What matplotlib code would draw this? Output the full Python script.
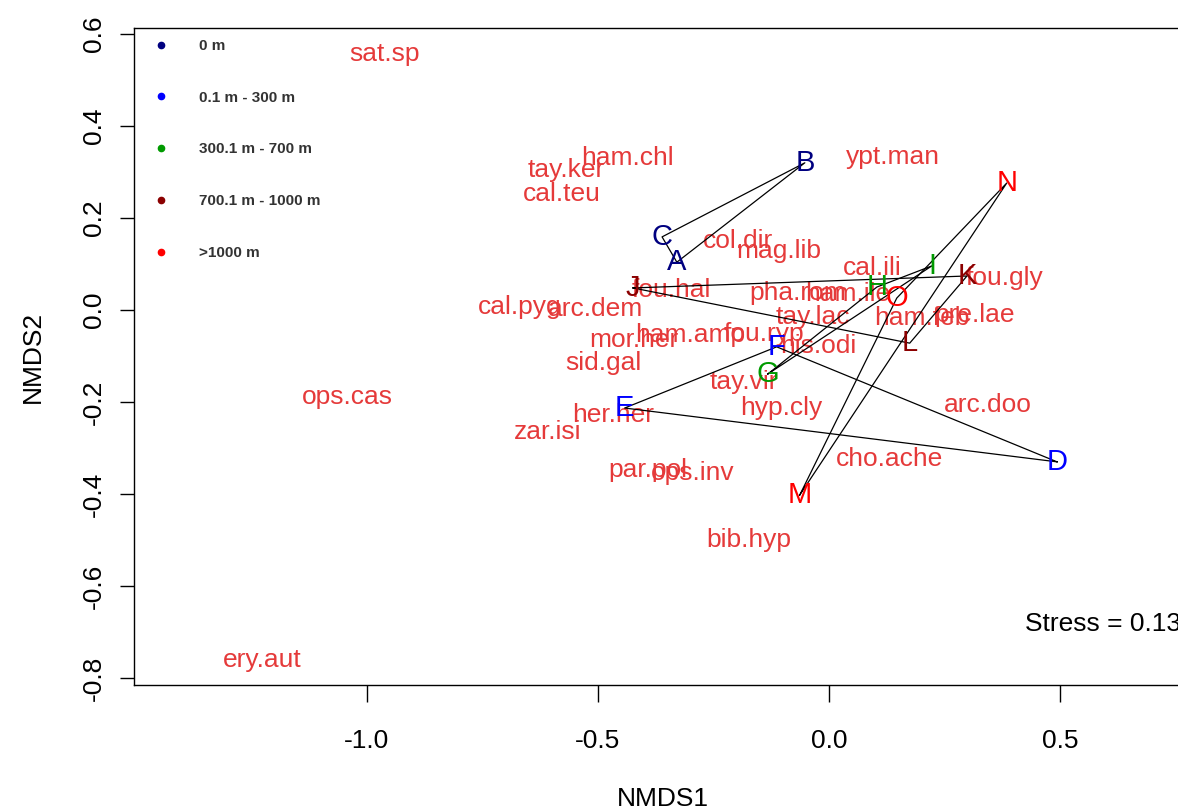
import matplotlib
matplotlib.use("Agg")
import matplotlib.pyplot as plt
from matplotlib.lines import Line2D

plt.rcParams['font.family'] = ['Liberation Sans', 'DejaVu Sans']

# Site scores (NMDS1, NMDS2)
site_labels = list("ABCDEFGHIJKLMNO")
site_x = [-0.329, -0.052, -0.361, 0.494, -0.442, -0.113, -0.132, 0.104, 0.223,
          -0.424, 0.299, 0.175, -0.063, 0.385, 0.147]
site_y = [0.104, 0.320, 0.159, -0.330, -0.213, -0.080, -0.139, 0.050, 0.096,
          0.048, 0.074, -0.072, -0.402, 0.276, 0.026]
site_group = [0, 0, 0, 1, 1, 1, 2, 2, 2, 3, 3, 3, 4, 4, 4]

# Depth groups
group_labels = ["0 m", "0.1 m - 300 m", "300.1 m - 700 m", "700.1 m - 1000 m", ">1000 m"]
group_colors = ["#000080", "#0000FF", "#009A00", "#8B0000", "#FF0000"]

# Species scores
species = ["sat.sp", "ham.chl", "tay.ker", "cal.teu", "ypt.man", "col.dir", "mag.lib",
           "cal.ili", "fou.gly", "fou.hal", "pha.rom", "ham.ile", "cal.pyg", "arc.dem",
           "tay.lac", "ham.feb", "pre.lae", "mor.her", "ham.amp", "fou.ryp", "his.odi",
           "sid.gal", "ops.cas", "tay.vir", "hyp.cly", "arc.doo", "her.her", "zar.isi",
           "cho.ache", "par.pol", "ops.inv", "bib.hyp", "ery.aut"]
sp_x = [-0.961, -0.435, -0.569, -0.578, 0.139, -0.197, -0.108,
        0.093, 0.381, -0.342, -0.067, 0.040, -0.669, -0.506,
        -0.035, 0.201, 0.316, -0.422, -0.301, -0.141, -0.024,
        -0.487, -1.043, -0.184, -0.102, 0.344, -0.468, -0.608,
        0.132, -0.392, -0.294, -0.173, -1.227]
sp_y = [0.557, 0.330, 0.304, 0.252, 0.333, 0.150, 0.128,
        0.091, 0.070, 0.043, 0.037, 0.035, 0.007, 0.002,
        -0.015, -0.017, -0.011, -0.065, -0.054, -0.052, -0.078,
        -0.115, -0.189, -0.157, -0.213, -0.207, -0.228, -0.265,
        -0.324, -0.348, -0.354, -0.500, -0.761]

stress_text = "Stress = 0.13"
x_ticks = [-1.0, -0.5, 0.0, 0.5]
y_ticks = [0.6, 0.4, 0.2, 0.0, -0.2, -0.4, -0.6, -0.8]

W, H = 1178, 810
AX_L, AX_R, AX_T, AX_B = 134, 1192, 28, 685
fig = plt.figure(figsize=(W / 100, H / 100), dpi=100)
ax = fig.add_axes([AX_L / W, 1 - AX_B / H, (AX_R - AX_L) / W, (AX_B - AX_T) / H])
ax.set_xlim(-1.504, 0.786)
ax.set_ylim(-0.815, 0.613)

sp_color = "#E53A3A"
for name, x, y in zip(species, sp_x, sp_y):
    ax.text(x, y, name, color=sp_color, fontsize=19, ha="center", va="center", zorder=2)

# Convex hulls of each group (3 sites -> triangle)
for g in range(len(group_labels)):
    idx = [i for i, gg in enumerate(site_group) if gg == g]
    xs = [site_x[i] for i in idx] + [site_x[idx[0]]]
    ys = [site_y[i] for i in idx] + [site_y[idx[0]]]
    ax.plot(xs, ys, color="black", lw=0.9, zorder=3)

for lab, x, y, g in zip(site_labels, site_x, site_y, site_group):
    ax.text(x, y, lab, color=group_colors[g], fontsize=21, ha="center", va="center", zorder=4)

ax.text(0.424, -0.683, stress_text, fontsize=19, ha="left", va="center", color="black")

handles = [Line2D([], [], ls="none", marker="o", ms=4.5, color=c) for c in group_colors]
fs = 11
leg = ax.legend(handles, group_labels, loc="upper left", frameon=False,
                bbox_to_anchor=(15.5 / (AX_R - AX_L), 1 - 11 / (AX_B - AX_T)),
                prop={"size": fs, "weight": "bold"}, labelspacing=2.47,
                handletextpad=1.73, borderaxespad=0, borderpad=0, handlelength=1.5)
for t in leg.get_texts():
    t.set_color("#333333")

ax.set_xticks(x_ticks)
ax.set_xticklabels([f"{v:.1f}" for v in x_ticks])
ax.set_yticks(y_ticks)
ax.set_yticklabels([f"{v:.1f}" for v in y_ticks], rotation=90, va="center")
ax.tick_params(axis="x", length=12, width=1, labelsize=19, pad=20)
ax.tick_params(axis="y", length=10, width=1, labelsize=19, pad=10)
ax.set_xlabel("NMDS1", fontsize=19, labelpad=24)
ax.set_ylabel("NMDS2", fontsize=19, labelpad=27)
for s in ax.spines.values():
    s.set_linewidth(1.0)

fig.savefig("out.png", dpi=100)
